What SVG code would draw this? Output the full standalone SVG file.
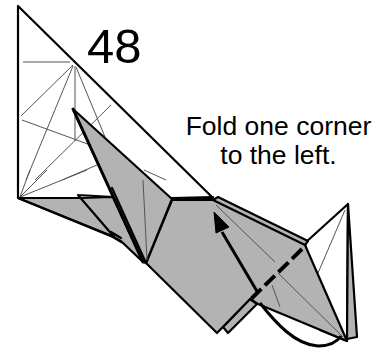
<svg xmlns="http://www.w3.org/2000/svg" width="386" height="352" viewBox="0 0 386 352">
<style>
.g{fill:#b3b3b3;stroke:#000;stroke-width:2.2;stroke-linejoin:round}
.w{fill:#fff;stroke:#000;stroke-width:2.2;stroke-linejoin:round}
.e{fill:none;stroke:#000;stroke-width:2.2;stroke-linejoin:round;stroke-linecap:round}
.b{fill:none;stroke:#000;stroke-width:3;stroke-linecap:round}
.t{fill:none;stroke:#555;stroke-width:1}
text{font-family:"Liberation Sans",Arial,sans-serif;fill:#000}
</style>
<g id="back-paper">
<path class="w" d="M18 6V198H80L213 198Z"/>
<path class="t" d="M23 62H70M73 65L21 116M73 66L26 180M75 66V141M22 120L104 150M111 105L35 180M76 67L105 137M62 180L97 165M144 170L166 180M20 197L30 170M20 197L47 170M20 197L87 170"/>
</g>
<g id="right-flap">
<path class="w" d="M305 243L348 204L347 341L320 330Z"/>
<path class="g" d="M348 204L357 337L347 339Z"/>
<path class="t" d="M345 210L318 273"/>
</g>
<g id="lower-flaps">
<path class="g" d="M18 198H80L113 197L143 262L123 243L113 237Z"/>
<path class="e" d="M78 195L115 238M18 198L112 236L122 242M78 195L113 197M111 232L121 238"/>
</g>
<g id="main-flap">
<path class="g" d="M223 327L228 333L257 304L250 299Z"/>
<path class="g" d="M146 263L172 200L213 200L218 197L308 241L305 245L347 341L258 304L250 299L217 333Z"/>
<path class="e" d="M172 198L213 197M213 200L305 245"/>
<path class="t" d="M216 205L275 262M278 273L343 337M272 285L280 307"/>
</g>
<g id="top-flap">
<path class="g" d="M73 109L172 199L146 263L143 262Z"/>
<path class="b" d="M73 109L143 262"/>
<path class="e" d="M112 188L146 263"/>
<path class="t" d="M143 180L147 260"/>
</g>
<g id="connectors">
<path fill="none" stroke="#000" stroke-width="4" stroke-dasharray="14 5" d="M302 249L250 300"/>
<path fill="none" stroke="#000" stroke-width="3" d="M258 293L222 232M260 303C275 322 295 345 318 346C330 346 337 342 341 336"/>
<path d="M214 212L229 227L216 233Z" fill="#000" stroke="#000" stroke-linejoin="round"/>
</g>
<text x="87" y="63" font-size="49">48</text>
<text x="278.500" y="135" font-size="26.500" text-anchor="middle">Fold one corner</text>
<text x="278.500" y="164" font-size="26.500" text-anchor="middle">to the left.</text>
</svg>
